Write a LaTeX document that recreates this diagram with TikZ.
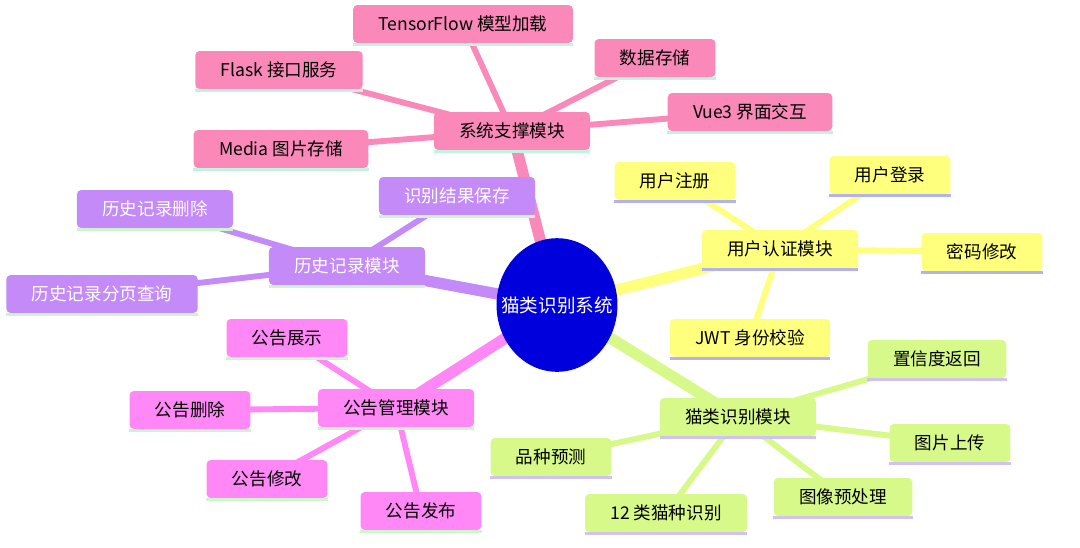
\documentclass[tikz,border=0pt]{standalone}
\usepackage{fontspec}
\setmainfont{Noto Sans CJK SC}
\usepackage{xcolor}
\definecolor{root700}{HTML}{0000DC}
\definecolor{pink400}{HTML}{FA88B9}
\definecolor{yellow300}{HTML}{FFFF7E}
\definecolor{lime300}{HTML}{D6F98A}
\definecolor{fuchsia300}{HTML}{FF88F6}
\definecolor{purple300}{HTML}{C38AF8}
\definecolor{mint200}{HTML}{C2F3DF}
\definecolor{lav300}{HTML}{B4B2EE}
\definecolor{lav200}{HTML}{CFC2F4}
\definecolor{green200}{HTML}{CDF5CB}
\usepackage{tikz}
\usetikzlibrary{shapes.geometric, backgrounds}

\begin{document}
\begin{tikzpicture}[
        x=0.025cm, y=-0.025cm,
        topic/.style={rectangle, rounded corners=3pt, minimum height=27pt, inner xsep=18pt, inner ysep=2pt, font=\fontsize{12.5}{14}\selectfont, text=black},
        hub/.style={ellipse, fill=root700, text=white, minimum width=86pt, minimum height=95pt, inner xsep=-12pt, inner ysep=0pt, font=\fontsize{13.2}{15}\selectfont},
        trunk/.style={line width=8pt},
        twig/.style={line width=4.2pt},
        uline/.style={line width=2pt}
    ]
        \useasboundingbox (0,0) rectangle (1080,547);

        % Root
        \node[hub] (root) at (557,305) {猫类识别系统};

        % System support
        \node[topic, fill=pink400] (sys) at (512,131) {系统支撑模块};
        \node[topic, fill=pink400] (tf) at (463,24) {TensorFlow 模型加载};
        \node[topic, fill=pink400] (flask) at (279,70) {Flask 接口服务};
        \node[topic, fill=pink400] (store) at (655,58) {数据存储};
        \node[topic, fill=pink400] (vue) at (750,112) {Vue3 界面交互};
        \node[topic, fill=pink400] (media) at (281,149) {Media 图片存储};

        % User auth
        \node[topic, fill=yellow300] (auth) at (780,249) {用户认证模块};
        \node[topic, fill=yellow300] (reg) at (675,181) {用户注册};
        \node[topic, fill=yellow300] (login) at (890,175) {用户登录};
        \node[topic, fill=yellow300] (pwd) at (982,252) {密码修改};
        \node[topic, fill=yellow300] (jwt) at (750,338) {JWT 身份校验};

        % Cat recognition
        \node[topic, fill=lime300] (cat) at (738,417) {猫类识别模块};
        \node[topic, fill=lime300] (conf) at (937,359) {置信度返回};
        \node[topic, fill=lime300] (upload) at (950,443) {图片上传};
        \node[topic, fill=lime300] (prep) at (843,497) {图像预处理};
        \node[topic, fill=lime300] (twelve) at (666,513) {12 类猫种识别};
        \node[topic, fill=lime300] (breed) at (551,457) {品种预测};

        % Notices
        \node[topic, fill=fuchsia300] (notice) at (396,408) {公告管理模块};
        \node[topic, fill=fuchsia300] (show) at (287,338) {公告展示};
        \node[topic, fill=fuchsia300] (del) at (190,410) {公告删除};
        \node[topic, fill=fuchsia300] (edit) at (267,479) {公告修改};
        \node[topic, fill=fuchsia300] (pub) at (421,511) {公告发布};

        % History
        \node[topic, fill=purple300, text=white] (hist) at (347,266) {历史记录模块};
        \node[topic, fill=purple300, text=white] (save) at (457,196) {识别结果保存};
        \node[topic, fill=purple300, text=white] (hdel) at (155,209) {历史记录删除};
        \node[topic, fill=purple300, text=white] (page) at (102,294) {历史记录分页查询};

        % Underlines
        \foreach \n in {sys,tf,flask,store,vue,media}
            \draw[uline, draw=mint200] ([yshift=-1pt]\n.south west) -- ([yshift=-1pt]\n.south east);
        \foreach \n in {auth,reg,login,pwd,jwt}
            \draw[uline, draw=lav300] ([yshift=-1pt]\n.south west) -- ([yshift=-1pt]\n.south east);
        \foreach \n in {cat,conf,upload,prep,twelve,breed}
            \draw[uline, draw=lav200] ([yshift=-1pt]\n.south west) -- ([yshift=-1pt]\n.south east);
        \foreach \n in {notice,show,del,edit,pub,hist,save,hdel,page}
            \draw[uline, draw=green200] ([yshift=-1pt]\n.south west) -- ([yshift=-1pt]\n.south east);

        % Branches
        \begin{scope}[on background layer]
            \draw[trunk, draw=pink400] (root.center) -- (sys.center);
            \draw[trunk, draw=yellow300] (root.center) -- (auth.center);
            \draw[trunk, draw=lime300] (root.center) -- (cat.center);
            \draw[trunk, draw=fuchsia300] (root.center) -- (notice.center);
            \draw[trunk, draw=purple300] (root.center) -- (hist.center);
            \foreach \n in {tf,flask,store,vue,media}
                \draw[twig, draw=pink400] (sys.center) -- (\n.center);
            \foreach \n in {reg,login,pwd,jwt}
                \draw[twig, draw=yellow300] (auth.center) -- (\n.center);
            \foreach \n in {conf,upload,prep,twelve,breed}
                \draw[twig, draw=lime300] (cat.center) -- (\n.center);
            \foreach \n in {show,del,edit,pub}
                \draw[twig, draw=fuchsia300] (notice.center) -- (\n.center);
            \foreach \n in {save,hdel,page}
                \draw[twig, draw=purple300] (hist.center) -- (\n.center);
        \end{scope}

    \end{tikzpicture}
\end{document}
